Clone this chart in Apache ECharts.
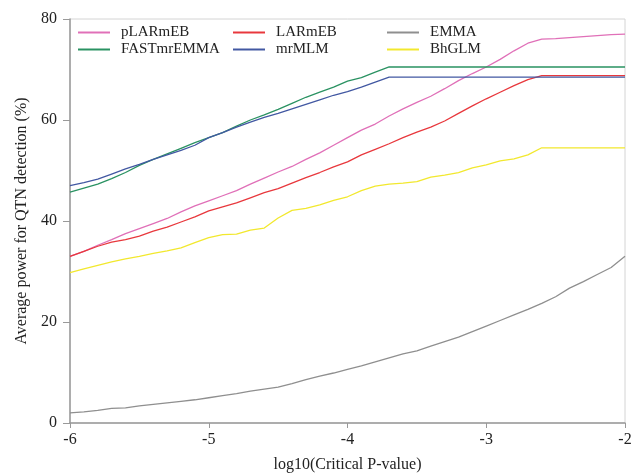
<!DOCTYPE html>
<html>
<head>
<meta charset="utf-8">
<script src="https://cdn.jsdelivr.net/npm/echarts@6/dist/echarts.min.js"></script>
<style>html,body{margin:0;padding:0;background:#fff;}#c{width:631px;height:473px;}</style>
</head>
<body>
<div id="c"></div>
<script>
var xs = [-6.0,-5.9,-5.8,-5.7,-5.6,-5.5,-5.4,-5.3,-5.2,-5.1,-5.0,-4.9,-4.8,-4.7,-4.6,-4.5,-4.4,-4.3,-4.2,-4.1,-4.0,-3.9,-3.8,-3.7,-3.6,-3.5,-3.4,-3.3,-3.2,-3.1,-3.0,-2.9,-2.8,-2.7,-2.6,-2.5,-2.4,-2.3,-2.2,-2.1,-2.0];
var pLARmEB = [33,34,35.2,36.3,37.5,38.5,39.5,40.5,41.8,43,44,45,46,47.3,48.5,49.7,50.8,52.2,53.5,55,56.5,58,59.2,60.8,62.2,63.5,64.7,66.2,67.8,69.2,70.5,72,73.7,75.2,76,76.1,76.3,76.5,76.7,76.9,77];
var LARmEB = [33,34,35,35.8,36.3,37,38,38.8,39.8,40.8,42,42.8,43.6,44.6,45.6,46.4,47.5,48.6,49.6,50.7,51.7,53.1,54.2,55.3,56.5,57.6,58.6,59.8,61.3,62.8,64.2,65.5,66.8,68,68.8,68.8,68.8,68.8,68.8,68.8,68.8];
var EMMA = [2.0,2.2,2.5,2.9,3.0,3.4,3.7,4.0,4.3,4.6,5.0,5.4,5.8,6.3,6.7,7.1,7.8,8.6,9.3,9.9,10.6,11.3,12.1,12.9,13.7,14.3,15.2,16.1,17.0,18.1,19.2,20.3,21.4,22.5,23.7,25.0,26.7,28.0,29.4,30.8,33.0];
var FASTmrEMMA = [45.7,46.5,47.3,48.4,49.6,51.0,52.2,53.3,54.4,55.5,56.5,57.5,58.8,60.0,61.0,62.1,63.3,64.5,65.5,66.5,67.7,68.4,69.5,70.5,70.5,70.5,70.5,70.5,70.5,70.5,70.5,70.5,70.5,70.5,70.5,70.5,70.5,70.5,70.5,70.5,70.5];
var mrMLM = [47.0,47.6,48.3,49.3,50.3,51.2,52.2,53.1,54.0,55.0,56.5,57.5,58.6,59.6,60.5,61.3,62.2,63.1,64.0,64.9,65.6,66.5,67.5,68.5,68.5,68.5,68.5,68.5,68.5,68.5,68.5,68.5,68.5,68.5,68.5,68.5,68.5,68.5,68.5,68.5,68.5];
var BhGLM = [29.8,30.5,31.2,31.9,32.5,33.0,33.6,34.1,34.7,35.7,36.7,37.3,37.4,38.2,38.6,40.6,42.1,42.5,43.2,44.1,44.8,46.0,46.9,47.3,47.5,47.8,48.7,49.1,49.6,50.5,51.1,51.9,52.3,53.1,54.5,54.5,54.5,54.5,54.5,54.5,54.5];
var xTicks = [-6,-5,-4,-3,-2];
var yTicks = [0,20,40,60,80];

var names = ['pLARmEB','LARmEB','EMMA','FASTmrEMMA','mrMLM','BhGLM'];
var vals = [pLARmEB, LARmEB, EMMA, FASTmrEMMA, mrMLM, BhGLM];
var colors = ['#e070b8','#e8383d','#8f8f8f','#2a9262','#4258a2','#f2e82e'];

function pairs(v){ return xs.map(function(x,i){ return [x, v[i]]; }); }

var font = 'Liberation Serif, Times New Roman, serif';
var series = names.map(function(n,i){
  return {name:n, type:'line', data:pairs(vals[i]), symbol:'none', showSymbol:false,
    lineStyle:{color:colors[i], width:1.3}, itemStyle:{color:colors[i]}, animation:false, z: 3};
});

function legend(left, items){
  return {left:left, top:25, orient:'vertical', data:items, icon:'rect', itemWidth:32, itemHeight:2,
    itemGap:2, padding:0, textStyle:{fontFamily:font, fontSize:15, color:'#222', padding:[0,0,0,6], height:15, lineHeight:15}};
}

var chart = echarts.init(document.getElementById('c'), null, {renderer:'canvas'});
chart.setOption({
  backgroundColor:'#fff',
  animation:false,
  color: colors,
  legend:[legend(78,['pLARmEB','FASTmrEMMA']), legend(233,['LARmEB','mrMLM']), legend(387,['EMMA','BhGLM'])],
  grid:{left:70, right:6, top:19, bottom:50, show:true, borderColor:'#d4d4d4', borderWidth:1, containLabel:false, outerBoundsMode:'none'},
  xAxis:{type:'value', min:xTicks[0], max:xTicks[xTicks.length-1], interval:1,
    name:'log10(Critical P-value)', nameLocation:'middle', nameGap:34,
    nameTextStyle:{fontFamily:font, fontSize:16, color:'#222'},
    axisLine:{show:true, lineStyle:{color:'#999', width:1.5}},
    axisTick:{show:true, inside:false, length:5, lineStyle:{color:'#999'}},
    axisLabel:{fontFamily:font, fontSize:16, color:'#222', margin:9},
    splitLine:{show:false}},
  yAxis:{type:'value', min:yTicks[0], max:yTicks[yTicks.length-1], interval:20,
    name:'Average power for QTN detection (%)', nameLocation:'middle', nameGap:40,
    nameTextStyle:{fontFamily:font, fontSize:16, color:'#222'},
    axisLine:{show:true, lineStyle:{color:'#999', width:1.5}},
    axisTick:{show:true, inside:false, length:7, lineStyle:{color:'#999'}},
    axisLabel:{fontFamily:font, fontSize:16, color:'#222', margin:13},
    splitLine:{show:false}},
  series: series
});
</script>
</body>
</html>
